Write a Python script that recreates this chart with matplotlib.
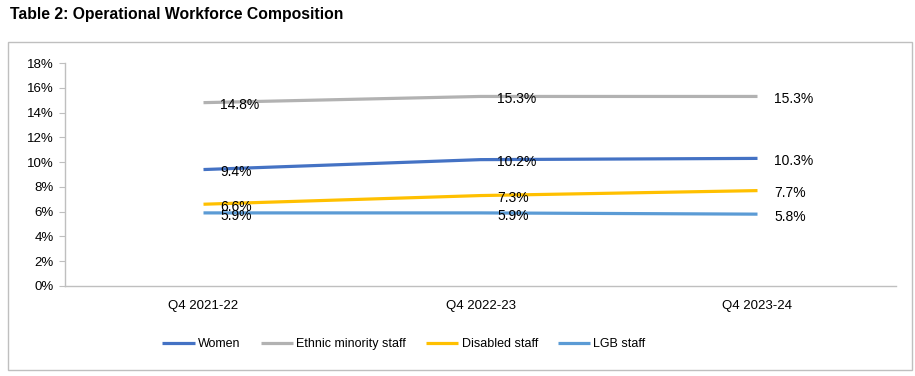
import matplotlib.pyplot as plt
from matplotlib.patches import Rectangle

categories = ["Q4 2021-22", "Q4 2022-23", "Q4 2023-24"]
series_names = ["Women", "Ethnic minority staff", "Disabled staff", "LGB staff"]
women = [9.4, 10.2, 10.3]
ethnic = [14.8, 15.3, 15.3]
disabled = [6.6, 7.3, 7.7]
lgb = [5.9, 5.9, 5.8]
yticks = [0, 2, 4, 6, 8, 10, 12, 14, 16, 18]

colors = ["#4472C4", "#B2B2B2", "#FFC000", "#5B9BD5"]
font = "Liberation Sans"

fig = plt.figure(figsize=(9.15, 3.76), dpi=100)
W, H = 915, 376

# title and chart border
fig.text(10 / W, 1 - 15 / H, "Table 2: Operational Workforce Composition",
         fontsize=11.3, fontweight="bold", family=font, va="center", ha="left")
fig.patches.append(Rectangle((8 / W, 6 / H), 904 / W, 328 / H, transform=fig.transFigure,
                             fill=False, edgecolor="#BFBFBF", linewidth=1.0))

ax = fig.add_axes([65 / W, 1 - 286 / H, 831 / W, 223 / H])
x = list(range(len(categories)))
for name, vals, c in zip(series_names, [women, ethnic, disabled, lgb], colors):
    ax.plot(x, vals, color=c, linewidth=2.3, label=name, solid_capstyle="butt")
    for xi, v in zip(x, vals):
        ax.annotate(f"{v:.1f}%", (xi, v), xytext=(12, -2), textcoords="offset points",
                    ha="left", va="center", fontsize=10, family=font, color="#000000")

ax.set_xlim(-0.5, 2.5)
ax.set_ylim(0, 18)
ax.set_yticks(yticks)
ax.set_yticklabels([f"{t}%" for t in yticks], family=font, fontsize=9.5)
ax.set_xticks(x)
ax.set_xticklabels(categories, family=font, fontsize=9.5)
ax.tick_params(axis="x", length=0, pad=10)
ax.tick_params(axis="y", length=4, color="#BFBFBF", pad=4)
for s in ["top", "right"]:
    ax.spines[s].set_visible(False)
for s in ["left", "bottom"]:
    ax.spines[s].set_color("#BFBFBF")
    ax.spines[s].set_linewidth(1.0)

fig.legend(loc="center", bbox_to_anchor=(404 / W, 1 - 344 / H), ncol=4, frameon=False,
           prop={"family": font, "size": 9}, handlelength=2.6, handletextpad=0.25,
           columnspacing=1.6)

fig.savefig("out.png", dpi=100)
